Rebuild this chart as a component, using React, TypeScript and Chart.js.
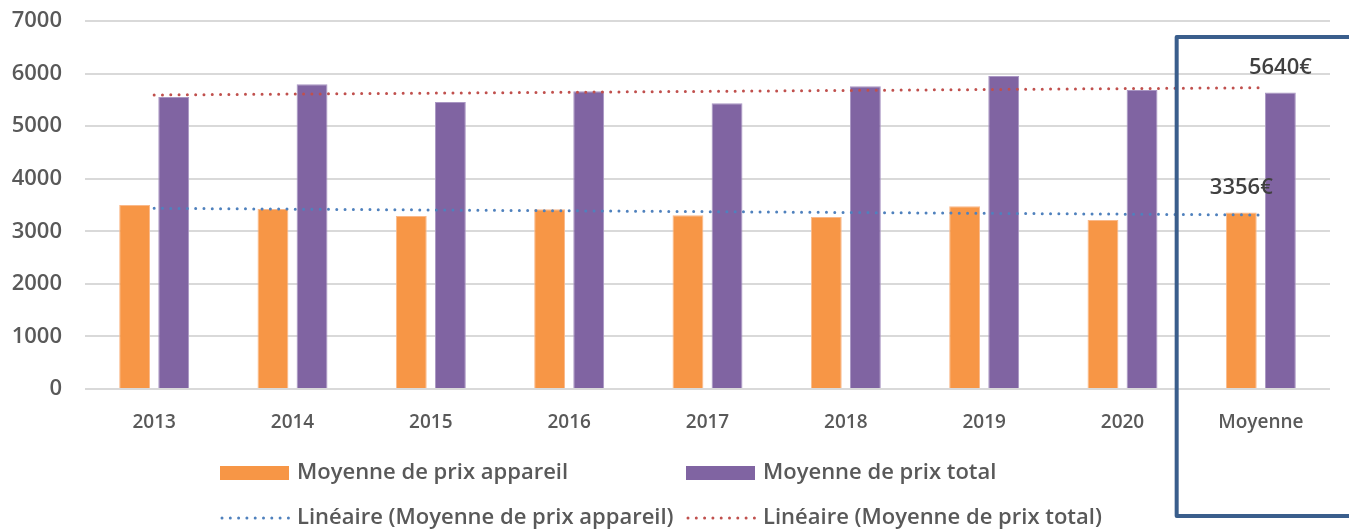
import React, { useEffect, useRef } from 'react';
import { Chart, registerables } from 'chart.js';

Chart.register(...registerables);

const categories = ['2013', '2014', '2015', '2016', '2017', '2018', '2019', '2020', 'Moyenne'];
const prixAppareil = [3500, 3424, 3290, 3418, 3304, 3272, 3475, 3215, 3356];
const prixTotal = [5554, 5796, 5460, 5663, 5435, 5758, 5954, 5688, 5640];
const trendAppareil = [3437, null, null, null, null, null, null, null, 3310];
const trendTotal = [5593, null, null, null, null, null, null, null, 5731];
const moyenneLabels = ['3356€', '5640€'];
const seriesNames = [
  'Moyenne de prix appareil',
  'Moyenne de prix total',
  'Linéaire (Moyenne de prix appareil)',
  'Linéaire (Moyenne de prix total)',
];
const yMin = 0;
const yMax = 7000;
const yStep = 1000;

const ORANGE = '#F79646';
const PURPLE = '#8064A2';
const BLUE = '#4F81BD';
const RED = '#C0504D';
const FONT = '"Open Sans"';
const TEXT = '#595959';

const decorPlugin = {
  id: 'decor',
  afterDatasetsDraw(chart: any) {
    const ctx = chart.ctx;
    const last = categories.length - 1;
    ctx.save();
    ctx.font = `600 22px ${FONT}`;
    ctx.fillStyle = '#404040';
    ctx.textAlign = 'center';
    ctx.textBaseline = 'middle';
    [2, 3].forEach((di, k) => {
      const meta = chart.getDatasetMeta(di);
      const el = meta.data[last];
      if (el) ctx.fillText(moyenneLabels[k], el.x, el.y - 25);
    });
    ctx.restore();
  },
  afterDraw(chart: any) {
    const ctx = chart.ctx;
    const xs = chart.scales.x;
    const area = chart.chartArea;
    ctx.save();
    // highlight box around "Moyenne"
    const left = xs.getPixelForValue(categories.length - 1.5) - 15;
    const top = area.top + 16;
    const bottom = chart.height - 15;
    const right = chart.width + 20;
    ctx.strokeStyle = '#3A5E8C';
    ctx.lineWidth = 4;
    ctx.lineJoin = 'round';
    ctx.beginPath();
    ctx.moveTo(right, top);
    ctx.lineTo(left, top);
    ctx.lineTo(left, bottom);
    ctx.lineTo(right, bottom);
    ctx.stroke();

    // legend
    const cols = [220, 686];
    const rows = [473, 518];
    const colors = [ORANGE, PURPLE, BLUE, RED];
    ctx.font = `600 22px ${FONT}`;
    ctx.textBaseline = 'middle';
    ctx.textAlign = 'left';
    seriesNames.forEach((name, i) => {
      const cx = cols[i % 2];
      const cy = rows[Math.floor(i / 2)];
      if (i < 2) {
        ctx.fillStyle = colors[i];
        ctx.fillRect(cx, cy - 7, 69, 14);
      } else {
        ctx.strokeStyle = colors[i];
        ctx.lineWidth = 3;
        ctx.lineCap = 'round';
        ctx.setLineDash([0, 8.3]);
        ctx.beginPath();
        ctx.moveTo(cx + 2, cy);
        ctx.lineTo(cx + 70, cy);
        ctx.stroke();
        ctx.setLineDash([]);
      }
      ctx.fillStyle = TEXT;
      ctx.fillText(name, cx + 77, cy);
    });
    ctx.restore();
  },
};

export default function App() {
  const ref = useRef<HTMLCanvasElement | null>(null);
  useEffect(() => {
    if (!ref.current) return;
    const chart = new Chart(ref.current, {
      type: 'bar',
      data: {
        labels: categories,
        datasets: [
          {
            type: 'line',
            label: seriesNames[2],
            data: trendAppareil,
            borderColor: BLUE,
            borderWidth: 3,
            borderDash: [0, 8.3],
            borderCapStyle: 'round',
            pointRadius: 0,
            spanGaps: true,
            fill: false,
            order: 0,
          } as any,
          {
            type: 'line',
            label: seriesNames[3],
            data: trendTotal,
            borderColor: RED,
            borderWidth: 3,
            borderDash: [0, 8.3],
            borderCapStyle: 'round',
            pointRadius: 0,
            spanGaps: true,
            fill: false,
            order: 0,
          } as any,
          {
            type: 'bar',
            label: seriesNames[0],
            data: prixAppareil,
            backgroundColor: ORANGE,
            borderColor: '#FAB98A',
            borderWidth: 1,
            categoryPercentage: 0.565,
            barPercentage: 0.79,
            order: 1,
          },
          {
            type: 'bar',
            label: seriesNames[1],
            data: prixTotal,
            backgroundColor: PURPLE,
            borderColor: '#A996C3',
            borderWidth: 1,
            categoryPercentage: 0.565,
            barPercentage: 0.79,
            order: 1,
          },
        ],
      },
      options: {
        responsive: false,
        animation: false,
        events: [],
        layout: { padding: { top: 21, right: 19, left: 0, bottom: 0 } },
        plugins: { legend: { display: false }, tooltip: { enabled: false } },
        scales: {
          x: {
            grid: { display: false, drawTicks: false },
            border: { display: false },
            ticks: { color: TEXT, font: { family: FONT, size: 19, weight: '600' }, padding: 22 },
            afterFit: (s: any) => { s.height = 142; },
          },
          y: {
            min: yMin,
            max: yMax,
            grid: { color: '#D9D9D9', lineWidth: 2, drawTicks: false },
            border: { display: false },
            ticks: {
              stepSize: yStep,
              color: TEXT,
              font: { family: FONT, size: 22, weight: '600' },
              padding: 23,
              callback: (v: any) => String(v),
            },
            afterFit: (s: any) => {
              s.width = 85;
              s.paddingTop = 0;
              s.paddingBottom = 0;
            },
          },
        },
      },
      plugins: [decorPlugin],
    });
    return () => chart.destroy();
  }, []);
  return (
    <div style={{ position: 'absolute', left: 0, top: 0, width: 1349, height: 531, background: '#fff' }}>
      <canvas ref={ref} width={1349} height={531} />
    </div>
  );
}
